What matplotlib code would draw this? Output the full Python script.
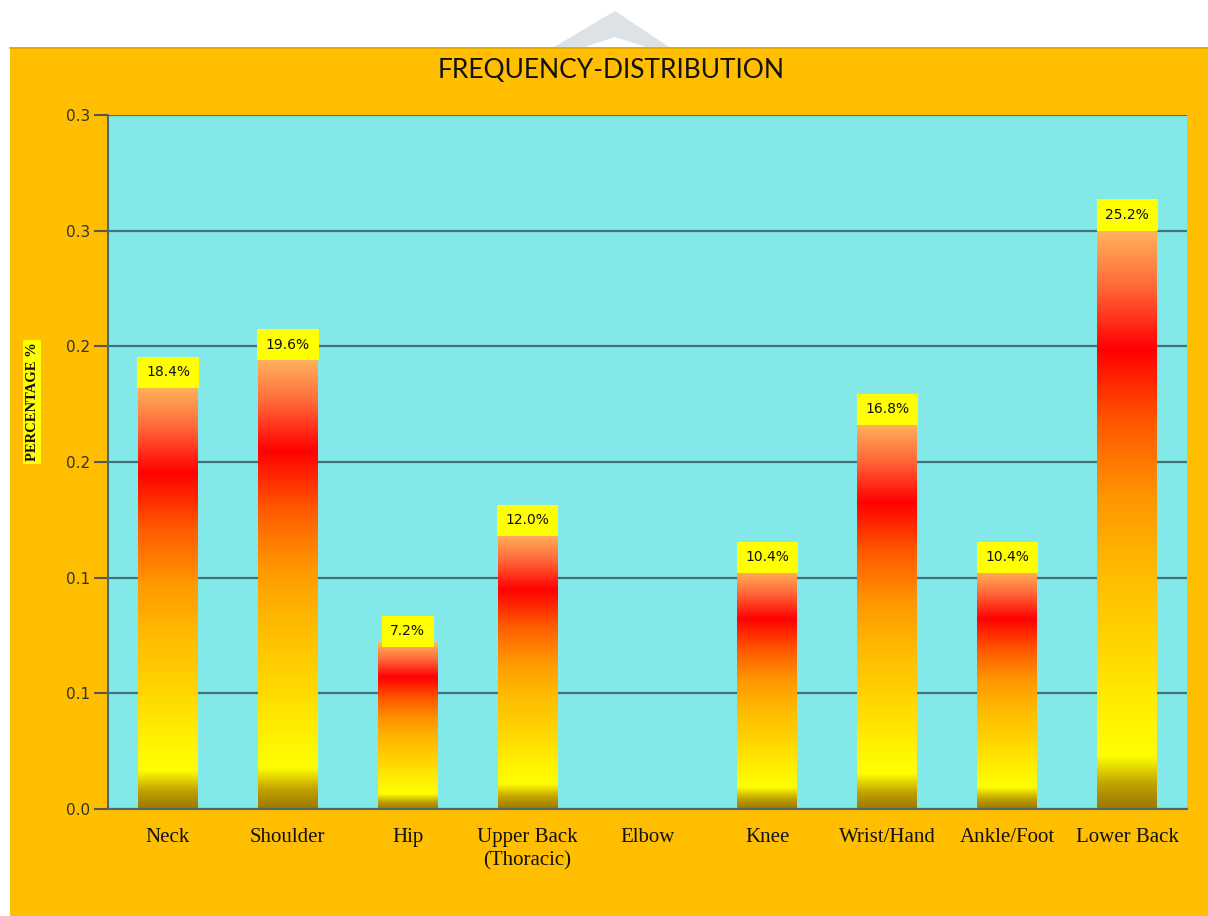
import matplotlib
matplotlib.use("Agg")
import matplotlib.pyplot as plt
import numpy as np
from matplotlib.colors import LinearSegmentedColormap
from matplotlib.patches import Rectangle, Polygon

# ---- data ----
categories = ["Neck", "Shoulder", "Hip", "Upper Back\n(Thoracic)", "Elbow",
              "Knee", "Wrist/Hand", "Ankle/Foot", "Lower Back"]
percentages = [18.4, 19.6, 7.2, 12.0, 0.0, 10.4, 16.8, 10.4, 25.2]
ytick_values = [0.0, 0.05, 0.10, 0.15, 0.20, 0.25, 0.30]
ytick_labels = ["0.0", "0.1", "0.1", "0.2", "0.2", "0.3", "0.3"]
title_text = "FREQUENCY-DISTRIBUTION"
ylabel_text = "PERCENTAGE %"

W, H = 1208, 916
fig = plt.figure(figsize=(W / 100, H / 100), dpi=100, facecolor="white")

# orange panel and faint watermark chevron
fig.patches.append(Rectangle((10 / W, 0), 1 - 10 / W, (H - 47) / H,
                             transform=fig.transFigure, facecolor="#FFBE00",
                             edgecolor="none", zorder=-10))
fig.lines.append(plt.Line2D([10 / W, 1], [(H - 47.5) / H] * 2, transform=fig.transFigure,
                            color="#E0A800", lw=1.2, zorder=-9))
chev = [(554, 47), (615, 11), (669, 47), (646, 47), (615, 37), (585, 47)]
fig.patches.append(Polygon([(x / W, 1 - y / H) for x, y in chev], closed=True,
                           transform=fig.transFigure, facecolor="#DDE2E6",
                           edgecolor="none", zorder=-10))

left, right, top, bottom = 108, 1187, 115, 809
ax = fig.add_axes([left / W, 1 - bottom / H, (right - left) / W, (bottom - top) / H])
ax.set_zorder(1)
ax.set_facecolor("#83E8E8")
ax.set_xlim(-0.5, len(categories) - 0.5)
ax.set_ylim(0, 0.30)

ax.set_axisbelow(True)
ax.yaxis.grid(True, color="#3A5F63", lw=1.6, alpha=0.85)
ax.set_yticks(ytick_values)
ax.set_yticklabels(ytick_labels)
ax.set_xticks(range(len(categories)))
ax.set_xticklabels(categories, family="Liberation Serif", fontsize=15, color="#111111",
                   linespacing=1.3)
ax.tick_params(axis="x", length=0, pad=14)
ax.tick_params(axis="y", length=10, width=1.5, color="#555555", pad=3,
               labelsize=11, labelcolor="#333333")
for lab in ax.get_yticklabels():
    lab.set_family("DejaVu Sans")

for s in ["top", "right"]:
    ax.spines[s].set_visible(False)
ax.spines["left"].set_color("#4F6A6A")
ax.spines["left"].set_linewidth(1.5)
ax.spines["bottom"].set_color("#4F6A6A")
ax.spines["bottom"].set_linewidth(1.5)

# gradient for bars (bottom -> top)
cmap = LinearSegmentedColormap.from_list("bar", [
    (0.00, "#9C7800"),
    (0.04, "#C0A000"),
    (0.09, "#FFFF00"),
    (0.15, "#FFF400"),
    (0.28, "#FFD500"),
    (0.42, "#FFB800"),
    (0.53, "#FF9800"),
    (0.66, "#FF5A00"),
    (0.79, "#FF0000"),
    (0.90, "#FF6A3A"),
    (1.00, "#FFB95E"),
])
grad = np.linspace(0, 1, 256).reshape(-1, 1)
bw = 0.25
for i, p in enumerate(percentages):
    v = p / 100.0
    if v <= 0:
        continue
    ax.imshow(grad, cmap=cmap, origin="lower", aspect="auto",
              extent=(i - bw, i + bw, 0, v), zorder=2, interpolation="bilinear")
    ax.annotate(f"{p:.1f}%", xy=(i, v), xytext=(0, 11), textcoords="offset pixels",
                ha="center", va="center", fontsize=10, family="DejaVu Sans",
                color="#111111", zorder=5,
                bbox=dict(boxstyle="square,pad=0.62", facecolor="#FFFF00",
                          edgecolor="none"))

fig.text(611 / W, 1 - 70 / H, title_text, ha="center", va="center",
         family="Lato", fontsize=19, color="#111111")
fig.text(32 / W, 1 - 402 / H, ylabel_text, ha="center", va="center", rotation=90,
         family="Liberation Serif", fontsize=10.5, color="#111111", weight="bold",
         bbox=dict(boxstyle="square,pad=0.15", facecolor="#FFFF00", edgecolor="none"))

fig.savefig("out.png", dpi=100, facecolor="white")
